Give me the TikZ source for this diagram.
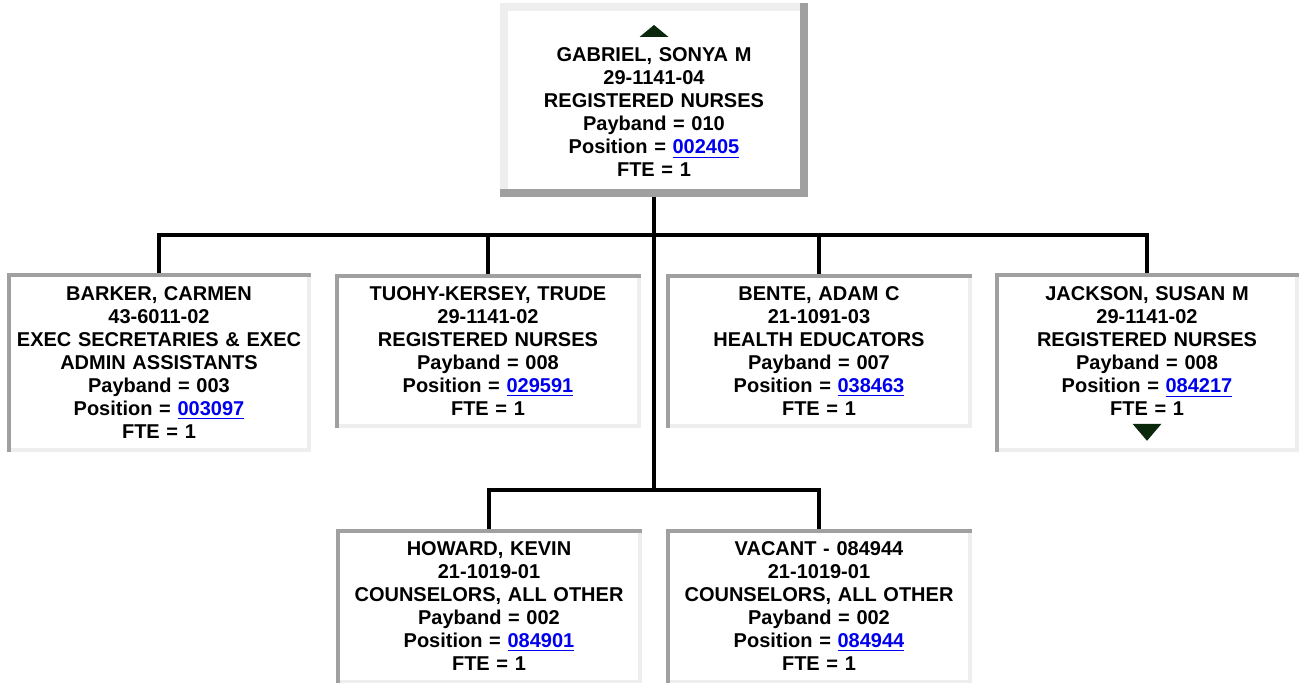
\documentclass[tikz,border=0pt]{standalone}
\usepackage{fontspec}
\setmainfont{Liberation Sans}
\usepackage{xcolor}
\usepackage{tikz}
\usetikzlibrary{calc,positioning}
\definecolor{rimdark}{RGB}{160,160,160}
\definecolor{rimlight}{RGB}{238,238,238}
\definecolor{linkblue}{RGB}{0,0,238}
\definecolor{navgreen}{RGB}{12,40,12}
\newcommand{\poslink}[1]{\textcolor{linkblue}{\underline{#1}}}

\begin{document}
\begin{tikzpicture}[x=0.5pt,y=-0.5pt,
      font=\fontsize{10}{11.5}\selectfont\bfseries,
      bx/.style={anchor=north,align=center,text width=146pt,inner xsep=2pt,inner ysep=0pt,minimum width=150.5pt},
      wire/.style={line width=2pt,black},
      rimd/.style={draw=rimdark,line width=2pt,line cap=rect},
      riml/.style={draw=rimlight,line width=2pt,line cap=rect},
      nav/.style={fill=navgreen}]
    \useasboundingbox (0,0) rectangle (1299,683);
    % manager
    \node[bx,minimum width=150pt,minimum height=92.5pt] (gabriel) at (654,7)
      {\strut\\GABRIEL, SONYA M\\29-1141-04\\REGISTERED NURSES\\Payband = 010\\Position = \poslink{002405}\\FTE = 1};
    % direct reports
    \node[bx,minimum width=149.5pt,minimum height=87pt] (barker) at (159,275)
      {BARKER, CARMEN\\43-6011-02\\EXEC SECRETARIES \& EXEC\\ADMIN ASSISTANTS\\Payband = 003\\Position = \poslink{003097}\\FTE = 1};
    \node[bx,minimum height=74.5pt] (tuohy) at (488,276)
      {TUOHY-KERSEY, TRUDE\\29-1141-02\\REGISTERED NURSES\\Payband = 008\\Position = \poslink{029591}\\FTE = 1};
    \node[bx,minimum height=74.5pt] (bente) at (819,276)
      {BENTE, ADAM C\\21-1091-03\\HEALTH EDUCATORS\\Payband = 007\\Position = \poslink{038463}\\FTE = 1};
    \node[bx,minimum width=149pt,minimum height=87pt] (jackson) at (1147,275)
      {JACKSON, SUSAN M\\29-1141-02\\REGISTERED NURSES\\Payband = 008\\Position = \poslink{084217}\\FTE = 1\\[-4pt]\strut};
    \node[bx,minimum height=75pt] (howard) at (489,531)
      {HOWARD, KEVIN\\21-1019-01\\COUNSELORS, ALL OTHER\\Payband = 002\\Position = \poslink{084901}\\FTE = 1};
    \node[bx,minimum height=75pt] (vacant) at (819,531)
      {VACANT - 084944\\21-1019-01\\COUNSELORS, ALL OTHER\\Payband = 002\\Position = \poslink{084944}\\FTE = 1};
    % connectors
    \coordinate (bus) at (654,235);
    \coordinate (subbus) at (654,490);
    \draw[wire] (gabriel.south) -- (subbus);
    \draw[wire] (barker.north) -- (barker.north |- bus) -- (jackson.north |- bus) -- (jackson.north);
    \draw[wire] (tuohy.north) -- (tuohy.north |- bus);
    \draw[wire] (bente.north) -- (bente.north |- bus);
    \draw[wire] (howard.north) -- (howard.north |- subbus) -- (vacant.north |- subbus) -- (vacant.north);
    % box rims
    \draw[riml,line width=4pt] (gabriel.south west) -- (gabriel.north west) -- (gabriel.north east);
    \draw[rimd,line width=4pt] (gabriel.north east) -- (gabriel.south east) -- (gabriel.south west);
    \foreach \n in {barker,tuohy,bente,jackson,howard,vacant}{
      \draw[riml] (\n.north east) -- (\n.south east) -- (\n.south west);
      \draw[rimd] (\n.south west) -- (\n.north west) -- (\n.north east);
    }
    % navigation arrows
    \fill[nav] ($(gabriel.north)+(0,18)$) -- ($(gabriel.north)+(14.5,30)$) -- ($(gabriel.north)+(-14.5,30)$) -- cycle;
    \fill[nav] ($(jackson.south)+(0,-9)$) -- ($(jackson.south)+(14.5,-26)$) -- ($(jackson.south)+(-14.5,-26)$) -- cycle;
  \end{tikzpicture}
\end{document}
